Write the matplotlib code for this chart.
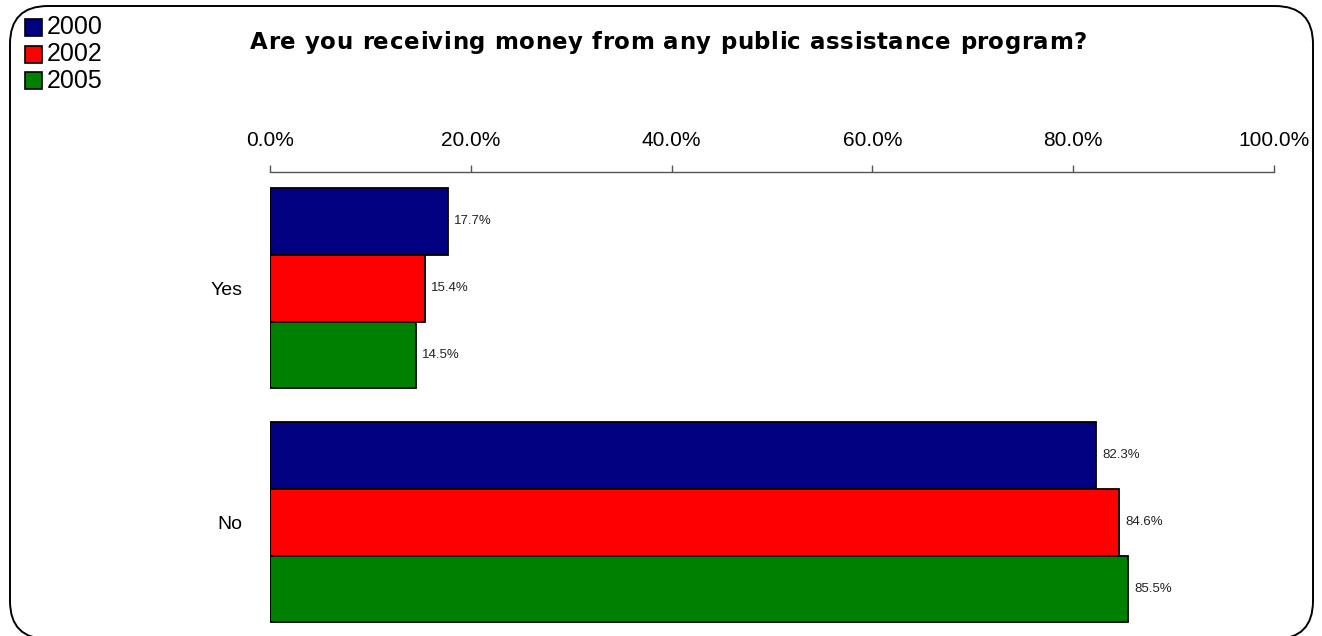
import matplotlib
matplotlib.use("Agg")
import matplotlib.pyplot as plt
from matplotlib.patches import FancyBboxPatch, Rectangle
from matplotlib.transforms import IdentityTransform
from matplotlib.font_manager import FontProperties, findfont
from matplotlib.ft2font import FT2Font, LoadFlags, Kerning
import numpy as np

plt.rcParams['font.family'] = ['Liberation Sans', 'DejaVu Sans']

categories = ["Yes", "No"]
years = ["2000", "2002", "2005"]
values = {
    "2000": [17.7, 82.3],
    "2002": [15.4, 84.6],
    "2005": [14.5, 85.5],
}
colors = ["#000080", "#FF0000", "#008000"]
xticks = [0, 20, 40, 60, 80, 100]
title = "Are you receiving money from any public assistance program?"

W, H = 1322, 636
DPI = 100
fig = plt.figure(figsize=(W / DPI, H / DPI), dpi=DPI)
fig.patch.set_facecolor("white")

# plot area in pixels: left 270, right 1274, top 172, bottom 636
ax = fig.add_axes([270 / W, 0, 1004 / W, (H - 172) / H])
ax.set_facecolor("none")

bar_h = 0.286
y = np.arange(len(categories))
for i, (yr, c) in enumerate(zip(years, colors)):
    pos = y + (i - 1) * bar_h
    vals = values[yr]
    ax.barh(pos, vals, height=bar_h, color=c, edgecolor="black", linewidth=1.3, zorder=3)
    for p, v in zip(pos, vals):
        ax.text(v + 0.6, p, f"{v:.1f}%", va="center", ha="left", fontsize=9.5, color="#222222")

ax.set_xlim(0, 100)
ax.set_ylim(1.487, -0.496)
ax.set_yticks(y)
ax.set_yticklabels(categories, fontsize=14)
ax.tick_params(axis="y", length=0, pad=20)
ax.xaxis.tick_top()
ax.set_xticks(xticks)
ax.set_xticklabels([f"{t:.1f}%" for t in xticks], fontsize=15)
ax.tick_params(axis="x", direction="out", length=5, width=1, color="#555555", pad=11)
for s in ["left", "right", "bottom"]:
    ax.spines[s].set_visible(False)
ax.spines["top"].set_color("#555555")
ax.spines["top"].set_linewidth(1)


def spaced_text(s, x0, x1, baseline, prop):
    """Draw a string spread evenly between pixel columns x0 and x1."""
    font = FT2Font(findfont(prop))
    font.set_size(prop.get_size_in_points(), DPI)
    advances, prev = [], None
    for ch in s:
        idx = font.get_char_index(ord(ch))
        kern = font.get_kerning(prev, idx, Kerning.DEFAULT) / 64 if prev is not None else 0
        g = font.load_char(ord(ch), flags=LoadFlags.NO_HINTING)
        advances.append((kern, g.linearHoriAdvance / 65536))
        prev = idx
    natural = sum(k + a for k, a in advances)
    tracking = (x1 - x0 - natural) / (len(s) - 1)
    x = x0
    for ch, (k, a) in zip(s, advances):
        x += k
        fig.text(x / W, 1 - baseline / H, ch, ha="left", va="baseline",
                 fontproperties=prop)
        x += a + tracking


spaced_text(title, 250, 1087, 49,
            FontProperties(family="DejaVu Sans", weight="bold", size=16.5))

# legend drawn in pixel coordinates
for i, (yr, c) in enumerate(zip(years, colors)):
    top = 19 + i * 26.5
    fig.add_artist(Rectangle((25, H - top - 17), 17, 17, facecolor=c,
                             edgecolor="black", linewidth=1.2,
                             transform=IdentityTransform()))
    fig.text(47 / W, 1 - (top + 8.5) / H, yr, ha="left", va="center", fontsize=18)

# rounded frame around the chart
frame = FancyBboxPatch((10, -3), 1303, H - 6 + 3,
                       boxstyle="round,pad=0,rounding_size=38",
                       facecolor="none", edgecolor="black", linewidth=1.4,
                       transform=IdentityTransform())
fig.add_artist(frame)

fig.savefig("out.png", dpi=DPI)
